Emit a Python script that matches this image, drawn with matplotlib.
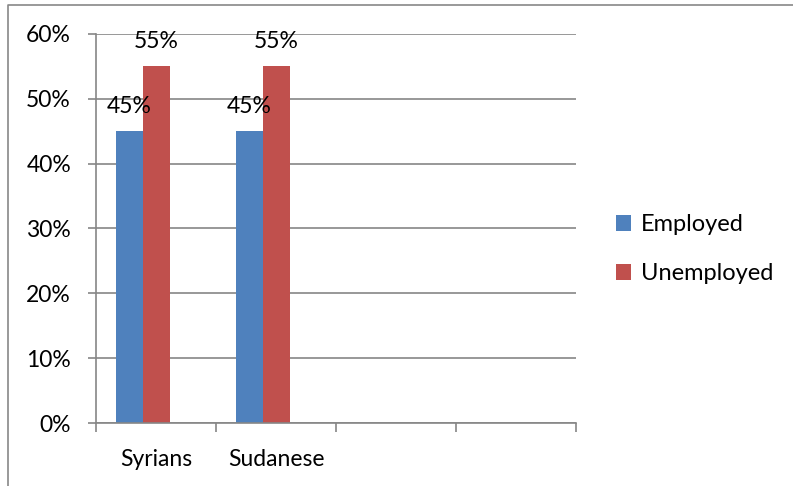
import matplotlib
matplotlib.use("Agg")
import matplotlib.pyplot as plt
from matplotlib.lines import Line2D
import numpy as np

categories = ["Syrians", "Sudanese", "", ""]
employed = [0.45, 0.45, None, None]
unemployed = [0.55, 0.55, None, None]
series_names = ["Employed", "Unemployed"]
colors = ["#4F81BD", "#C0504D"]
yticks = [0, 0.1, 0.2, 0.3, 0.4, 0.5, 0.6]

W, H = 793, 486
dpi = 100
FS = 16.5
plt.rcParams['font.family'] = ['Lato', 'DejaVu Sans']
fig = plt.figure(figsize=(W / dpi, H / dpi), dpi=dpi)
ax = fig.add_axes([96 / W, 1 - 423 / H, (576 - 96) / W, (423 - 34) / H])

x = np.arange(len(categories))
bw = 0.225
for vals, off, col, name in [(employed, -bw, colors[0], series_names[0]),
                             (unemployed, 0.0, colors[1], series_names[1])]:
    xs = [xi + off for xi, v in zip(x, vals) if v is not None]
    vs = [v for v in vals if v is not None]
    ax.bar(xs, vs, width=bw, color=col, label=name, zorder=3)
    for xi, v in zip(xs, vs):
        ax.annotate(f"{round(v*100)}%", (xi, v), xytext=(0, 18), textcoords="offset points",
                    ha="center", va="center", fontsize=FS, color="black", zorder=4)

ax.set_xlim(-0.5, len(categories) - 0.5)
ax.set_ylim(0, 0.6)
ax.set_yticks(yticks)
ax.set_yticklabels([f"{round(t*100)}%" for t in yticks])
ax.yaxis.grid(True, color="#868686", linewidth=1.2, zorder=0)
ax.tick_params(axis="y", length=6, width=1.2, color="#868686", pad=12, labelsize=FS)

ax.set_xticks(np.arange(len(categories) + 1) - 0.5)
ax.set_xticklabels([])
ax.set_xticks(x, minor=True)
ax.set_xticklabels(categories, minor=True)
ax.tick_params(axis="x", which="major", length=6.5, width=1.2, color="#868686")
ax.tick_params(axis="x", which="minor", length=0, pad=19, labelsize=FS)

for s in ["top", "right"]:
    ax.spines[s].set_visible(False)
for s in ["left", "bottom"]:
    ax.spines[s].set_color("#868686")
    ax.spines[s].set_linewidth(1.2)
    ax.spines[s].set_zorder(3.5)

leg = fig.legend(loc="upper left", bbox_to_anchor=(616 / W, 1 - 214 / H), frameon=False,
                 fontsize=17, handlelength=0.65, handleheight=0.65, handletextpad=0.4,
                 labelspacing=1.2, borderaxespad=0, borderpad=0)

fig.add_artist(Line2D([8 / W, 8 / W, 1.0], [0.0, 1 - 5 / H, 1 - 5 / H],
                      transform=fig.transFigure, color="#888888", linewidth=1.2))

fig.savefig("out.png", dpi=dpi)
